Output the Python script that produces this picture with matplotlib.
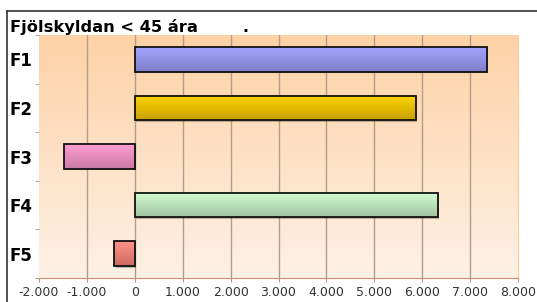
import numpy as np
import matplotlib.pyplot as plt
from matplotlib.lines import Line2D
from matplotlib.colors import LinearSegmentedColormap

# data
categories = ["F1", "F2", "F3", "F4", "F5"]
values = [7350, 5870, -1480, 6320, -430]
bar_tops = ["#A4A4FF", "#FFD500", "#FF9ED2", "#D2FFD2", "#FF9488"]
bar_bottoms = ["#7E7EC8", "#C9A000", "#C97AA5", "#A3C3A3", "#CC6A62"]
xticks = [-2000, -1000, 0, 1000, 2000, 3000, 4000, 5000, 6000, 7000, 8000]
title = "Fjölskyldan < 45 ára        ."

plt.rcParams['font.family'] = ['DejaVu Sans']

fig = plt.figure(figsize=(5.37, 3.02), dpi=100)
ax = fig.add_axes([39/537, 24/302, (518-39)/537, (278-35)/302])

ax.set_xlim(-2000, 8000)
ax.set_ylim(len(categories) - 0.5, -0.5)

# background gradient, peach at top fading down
bg = LinearSegmentedColormap.from_list("bg", ["#FDD2A6", "#FEF1E5"])
ax.imshow(np.linspace(0, 1, 256).reshape(-1, 1), cmap=bg, aspect="auto",
          extent=[-2000, 8000, len(categories) - 0.5, -0.5], zorder=0)

for x in xticks[1:-1]:
    ax.axvline(x, color="#B49C8A", lw=1, zorder=1)

# bars with vertical gradient fill and a small drop shadow
h = 0.51
dx, dy = 30, 0.03
grad = np.linspace(0, 1, 64).reshape(-1, 1)
for i, (v, c1, c2) in enumerate(zip(values, bar_tops, bar_bottoms)):
    cm = LinearSegmentedColormap.from_list("b%d" % i, [c1, c2])
    x0, x1 = min(0, v), max(0, v)
    ax.barh(i + dy, v, left=dx, height=h, color="#000000", alpha=0.25, lw=0, zorder=2)
    ax.imshow(grad, cmap=cm, aspect="auto",
              extent=[x0, x1, i + h/2, i - h/2], zorder=3)
    ax.barh(i, v, height=h, fill=False, edgecolor="#111111", linewidth=1.3, zorder=4)

ax.set_xticks(xticks)
ax.set_xticklabels([f"{t:,}".replace(",", ".") for t in xticks], color="#333333", fontsize=9)
ax.tick_params(axis="x", length=3, color="#C8906A", pad=3)

ax.set_yticks(range(len(categories)))
ax.set_yticklabels(categories, fontsize=12, fontweight="bold", ha="left")
ax.tick_params(axis="y", which="major", length=0, pad=21)
ax.set_yticks(np.arange(-0.5, len(categories)), minor=True)
ax.tick_params(axis="y", which="minor", length=3, color="#999999")

ax.spines["top"].set_visible(False)
ax.spines["left"].set_visible(False)
ax.spines["bottom"].set_color("#C8906A")
ax.spines["right"].set_color("#FFCC99")

fig.text(10/537, 1 - 32/302, title, fontsize=11.7, fontweight="bold", va="baseline")

# outer frame lines (top and left)
fig.add_artist(Line2D([7/537, 1], [1 - 11/302, 1 - 11/302], color="#333333", lw=1.2))
fig.add_artist(Line2D([7/537, 7/537], [0, 1 - 11/302], color="#333333", lw=1.2))

fig.savefig("out.png", dpi=100)
